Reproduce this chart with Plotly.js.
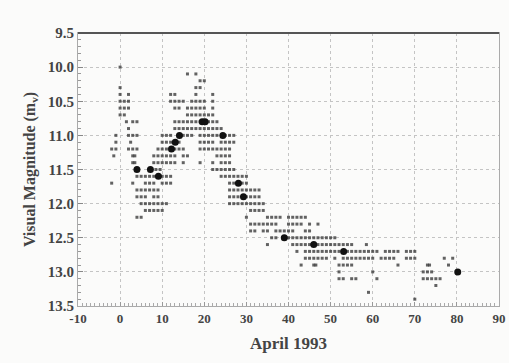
<!DOCTYPE html>
<html>
<head>
<meta charset="utf-8">
<script src="https://cdn.plot.ly/plotly-3.0.1.min.js"></script>
<style>html,body{margin:0;padding:0;background:#fbfbfa;}#chart{width:509px;height:363px;}</style>
</head>
<body>
<div id="chart"></div>
<script>
// Individual visual estimates: one magnitude row with the days observed at it
const rowMags = [10.0, 10.1, 10.2, 10.3, 10.4, 10.5, 10.6, 10.7, 10.8, 10.9,
  11.0, 11.1, 11.2, 11.3, 11.4, 11.5, 11.6, 11.7, 11.8, 11.9,
  12.0, 12.1, 12.2, 12.3, 12.4, 12.5, 12.6, 12.7, 12.8, 12.9,
  13.0, 13.1, 13.2, 13.3, 13.4];
const rowDays = [
  [0],
  [16, 18],
  [19, 20],
  [0, 18, 19],
  [0, 2, 12, 13, 18, 22],
  [0, 1, 2, 12, 13, 14, 15, 17, 18, 19, 20, 22],
  [0, 1, 2, 13, 14, 16, 17, 18, 19, 20, 22],
  [0, 1, 16, 17, 18, 19, 20, 21, 22],
  [1.5, 3, 4, 13, 14, 15, 16, 17, 18, 19, 20, 21, 22, 23],
  [2, 13, 14, 15, 16, 17, 18, 19, 20, 21, 22, 23, 24],
  [-1, 2, 3, 4, 10, 11, 12, 15, 16, 17, 19, 20, 21, 22, 23, 25, 26, 27],
  [-1, 2.5, 10, 11, 12, 14, 19, 20, 21, 22, 24, 25, 26, 27],
  [-2, -1, 2, 3, 4, 9, 10, 11, 13, 14, 15, 19, 20, 21, 22, 23, 24, 25, 26],
  [-1.5, 3, 3.5, 8, 9, 10, 11, 12, 13, 15, 16, 23, 24, 25, 26],
  [3, 3.5, 8, 9, 10, 11, 12, 13, 15, 19, 22, 24, 25, 26],
  [8.5, 9.5, 22, 23, 24, 25, 26, 27],
  [4, 5, 6, 7, 8, 10, 11, 12, 24, 25, 26, 27, 28, 29, 30],
  [-2, 3, 6, 7, 8, 10, 11, 12, 26, 27, 29, 30],
  [4, 5, 6, 7, 8, 9, 26, 27, 28, 29, 30, 31, 32, 33],
  [4, 5, 6, 8, 9, 26, 27, 28, 30, 31, 32, 33],
  [5, 6, 7, 8, 9, 10, 11, 26, 27, 28, 29, 30, 31, 32, 33, 34],
  [6, 7, 8, 9, 10, 31, 32, 33, 34],
  [4, 5, 30, 35, 36, 37, 38, 40, 41, 42, 43, 44],
  [31, 32, 33, 34, 35, 36, 37, 40, 41, 42, 43, 45, 47],
  [31, 32, 34, 35, 37, 38, 39, 40, 41, 44, 45],
  [36, 37, 40, 41, 42, 43, 44, 45, 46, 47, 48, 49, 50, 51],
  [35, 41, 42, 43, 44, 45, 47, 48, 49, 50, 51, 52, 53, 54, 55, 58.5],
  [42, 44, 45, 46, 47, 48, 49, 50, 51, 52, 54, 55, 56, 57, 58, 59, 60, 61, 63, 64, 65, 66, 68, 69, 70],
  [44, 45, 46, 47, 48, 49, 51, 53, 54, 55, 56, 57, 58, 59, 60, 62, 63, 64, 65, 68, 69, 70, 77, 79],
  [43, 46, 46.5, 52, 53, 54, 55, 66, 73, 73.5, 78],
  [52, 60, 72, 73, 74],
  [52, 53, 55, 56, 61, 72, 73, 74, 75, 76],
  [75],
  [59],
  [70]
];
// Daily means (large dots)
const meanDays = [4, 7.2, 9.1, 12.2, 13.1, 14.1, 19.5, 20.2, 24.4, 28.1, 29.3, 39, 46, 53.1, 80.2];
const meanMags = [11.5, 11.5, 11.6, 11.2, 11.1, 11.0, 10.8, 10.8, 11.0, 11.7, 11.9, 12.5, 12.6, 12.7, 13.0];
const xTicks = [-10, 0, 10, 20, 30, 40, 50, 60, 70, 80, 90];
const yTicks = [9.5, 10.0, 10.5, 11.0, 11.5, 12.0, 12.5, 13.0, 13.5];

const obsX = [], obsY = [];
rowMags.forEach((m, i) => rowDays[i].forEach(d => { obsX.push(d); obsY.push(m); }));

const serif = 'Liberation Serif, Times New Roman, serif';
const traces = [
  {x: obsX, y: obsY, type: 'scatter', mode: 'markers', hoverinfo: 'x+y',
   marker: {symbol: 'square', size: 3, color: '#3c3c3c', opacity: 0.8,
            line: {width: 0}}},
  {x: meanDays, y: meanMags, type: 'scatter', mode: 'markers',
   marker: {symbol: 'circle', size: 7, color: '#111'}}
];
const layout = {
  width: 509, height: 363,
  margin: {l: 78, r: 10, t: 33, b: 57},
  paper_bgcolor: '#fbfbfa', plot_bgcolor: '#fbfbfa',
  showlegend: false,
  font: {family: serif, color: '#444', size: 12},
  xaxis: {
    range: [-10, 90], tickvals: xTicks, ticktext: xTicks.map(String),
    showgrid: true, gridcolor: '#c4c4c4', griddash: 'dot', gridwidth: 1,
    zeroline: false, showline: true, linecolor: '#aaa', linewidth: 1, mirror: true,
    ticks: 'inside', ticklen: 4, tickcolor: '#999',
    minor: {dtick: 1, ticks: 'inside', ticklen: 3, tickcolor: '#aaa', showgrid: false},
    tickfont: {family: serif, size: 13, color: '#444', weight: 'bold'},
    title: {text: 'April 1993', font: {family: serif, size: 17, color: '#444', weight: 'bold'}, standoff: 12}
  },
  yaxis: {
    range: [13.5, 9.5], tickvals: yTicks, ticktext: yTicks.map(v => v.toFixed(1)),
    showgrid: true, gridcolor: '#c4c4c4', griddash: 'dot', gridwidth: 1,
    zeroline: false, showline: true, linecolor: '#aaa', linewidth: 1, mirror: true,
    ticks: 'inside', ticklen: 5, tickcolor: '#888',
    minor: {dtick: 0.1, ticks: 'inside', ticklen: 3, tickcolor: '#999', showgrid: false},
    tickfont: {family: serif, size: 15, color: '#444', weight: 'bold'},
    title: {text: 'Visual Magnitude (m<sub>v</sub>)', font: {family: serif, size: 16, color: '#444', weight: 'bold'}, standoff: 8}
  },
  shapes: [
    {type: 'line', xref: 'paper', yref: 'paper', x0: 0, x1: 1, y0: 1, y1: 1,
     line: {color: '#555', width: 2}}
  ]
};
Plotly.newPlot('chart', traces, layout, {displayModeBar: false, staticPlot: true});
</script>
</body>
</html>
